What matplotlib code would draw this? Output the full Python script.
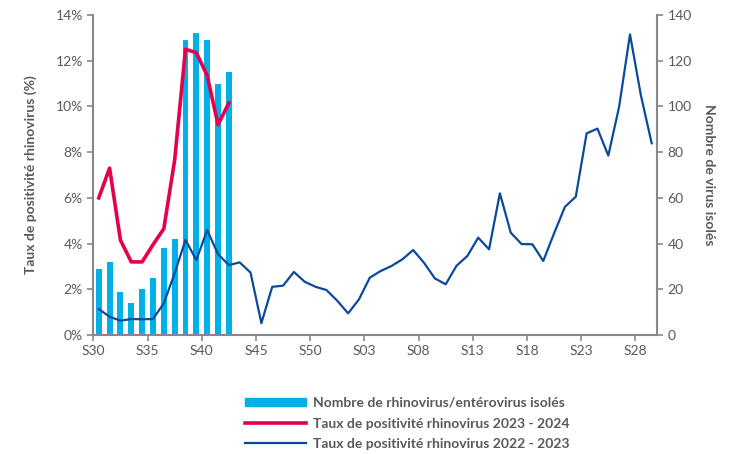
import numpy as np
import matplotlib
matplotlib.use("Agg")
import matplotlib.pyplot as plt
from matplotlib.patches import Patch
from matplotlib.lines import Line2D

plt.rcParams['font.family'] = ['Lato', 'DejaVu Sans']

# weeks S30 .. S52 then S01 .. S29
weeks = ["S%02d" % w for w in list(range(30, 53)) + list(range(1, 30))]

# nombre de rhinovirus/enterovirus isoles (2023-2024, S30..S42)
isolated = [29, 32, 19, 14, 20, 25, 38, 42, 129, 132, 129, 110, 115]

# taux de positivite 2023-2024 (%), S30..S42
rate_2324 = [6.0, 7.3, 4.15, 3.2, 3.2, 3.95, 4.65, 7.65, 12.5, 12.35, 11.35, 9.2, 10.15]

# taux de positivite 2022-2023 (%), S30..S29
rate_2223 = [1.14, 0.80, 0.63, 0.70, 0.69, 0.70, 1.39, 2.70, 4.16, 3.28,
             4.59, 3.54, 3.06, 3.18, 2.73, 0.52, 2.11, 2.16, 2.76, 2.33,
             2.11, 1.97, 1.50, 0.95, 1.56, 2.51, 2.80, 3.02, 3.31, 3.72,
             3.16, 2.48, 2.22, 3.03, 3.46, 4.26, 3.75, 6.20, 4.48, 3.98,
             3.97, 3.24, 4.45, 5.61, 6.05, 8.82, 9.03, 7.85, 9.99, 13.15,
             10.5, 8.39]

grey = '#595959'
fig = plt.figure(figsize=(7.35, 4.54), dpi=100)
ax = fig.add_axes([0.127, 0.262, 0.767, 0.705])
ax2 = ax.twinx()

x_bar = np.arange(len(isolated))
ax2.bar(x_bar, isolated, width=0.55, color='#00B0E6', zorder=1)

# lines above the bars
ax.set_zorder(ax2.get_zorder() + 1)
ax.patch.set_visible(False)
ax.plot(np.arange(len(rate_2223)), rate_2223, color='#0B4A9B', lw=1.6)
ax.plot(np.arange(len(rate_2324)), rate_2324, color='#E5004F', lw=2.6)

ax.set_xlim(-0.5, len(weeks) - 0.5)
ax.set_ylim(0, 14)
ax2.set_ylim(0, 140)
ax.set_yticks(np.arange(0, 15, 2))
ax.set_yticklabels(["%d%%" % v for v in range(0, 15, 2)])
ax2.set_yticks(np.arange(0, 141, 20))
ticks = np.arange(0, len(weeks), 5)
ax.set_xticks(ticks - 0.5)
ax.set_xticklabels([weeks[i] for i in ticks])

for a in (ax, ax2):
    for s in a.spines.values():
        s.set_visible(False)
    a.tick_params(colors='#888888', labelcolor=grey, labelsize=10, length=4, width=1.2)
ax.spines['left'].set_visible(True)
ax.spines['bottom'].set_visible(True)
ax2.spines['right'].set_visible(True)
for s in (ax.spines['left'], ax.spines['bottom'], ax2.spines['right']):
    s.set_color('#888888')
    s.set_linewidth(1.5)

ax.set_ylabel('Taux de positivité rhinovirus (%)', color=grey, fontsize=10,
              fontweight='bold', labelpad=13)
ax2.set_ylabel('Nombre de virus isolés', color=grey, fontsize=10,
               fontweight='bold', rotation=270, labelpad=17)

handles = [Patch(color='#00B0E6'),
           Line2D([], [], color='#E5004F', lw=2.6),
           Line2D([], [], color='#0B4A9B', lw=1.6)]
labels = ['Nombre de rhinovirus/entérovirus isolés',
          'Taux de positivité rhinovirus 2023 - 2024',
          'Taux de positivité rhinovirus 2022 - 2023']
leg = fig.legend(handles, labels, loc='upper left', bbox_to_anchor=(0.326, 0.138),
                 frameon=False, handlelength=4.4, handleheight=0.6, labelspacing=0.62,
                 handletextpad=0.45, borderaxespad=0,
                 prop={'weight': 'bold', 'size': 10})
for t in leg.get_texts():
    t.set_color(grey)

fig.savefig('out.png', dpi=100)
